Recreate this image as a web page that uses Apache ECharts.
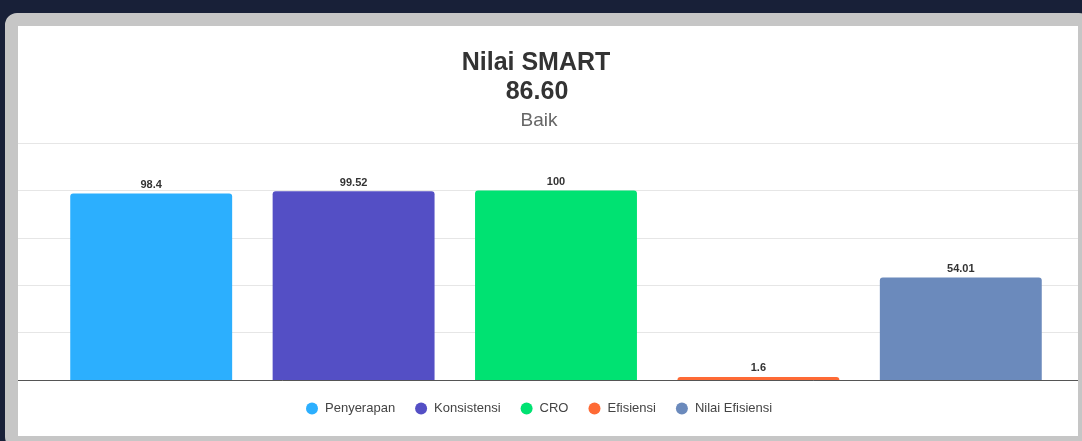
<!DOCTYPE html>
<html>
<head>
<meta charset="utf-8">
<script src="https://cdn.jsdelivr.net/npm/echarts@6/dist/echarts.min.js"></script>
<style>
  html, body { margin: 0; padding: 0; width: 1082px; height: 441px; overflow: hidden; background: #182038; }
  #card {
    position: absolute; left: 5px; top: 13px;
    width: 1060px; height: 410px;
    border: 13px solid #c6c6c6; border-radius: 12px;
    background: #fff;
  }
  #main { width: 1060px; height: 410px; }
</style>
</head>
<body>
<div id="card"><div id="main"></div></div>
<script>
  // Nilai SMART per komponen
  var categories = ['Penyerapan', 'Konsistensi', 'CRO', 'Efisiensi', 'Nilai Efisiensi'];
  var values = [98.4, 99.52, 100, 1.6, 54.01];
  var scoreTitle = 'Nilai SMART';
  var scoreValue = '86.60';
  var scoreGrade = 'Baik';

  var colors = ['#2caffe', '#544fc5', '#00e272', '#fe6a35', '#6b8abc'];

  var chart = echarts.init(document.getElementById('main'));

  var series = categories.map(function (name, i) {
    return {
      name: name,
      type: 'bar',
      xAxisIndex: 0,
      yAxisIndex: 0,
      barWidth: '80%',
      barGap: '-100%',
      data: values.map(function (v, j) { return j === i ? v : '-'; }),
      itemStyle: { color: colors[i], borderRadius: [3, 3, 0, 0] },
      label: {
        show: true,
        position: 'top',
        distance: 3,
        fontSize: 11,
        fontWeight: 'bold',
        color: '#333'
      }
    };
  });

  chart.setOption({
    textStyle: { fontFamily: 'Liberation Sans, Arial, sans-serif' },
    animation: false,
    title: [
      { text: scoreTitle, left: 513, top: 20, textAlign: 'center',
        textStyle: { fontSize: 25, fontWeight: 'bold', color: '#333' } },
      { text: scoreValue, left: 514, top: 49, textAlign: 'center',
        textStyle: { fontSize: 25, fontWeight: 'bold', color: '#333' } },
      { text: scoreGrade, left: 516, top: 80, textAlign: 'center',
        textStyle: { fontSize: 19, fontWeight: 'normal', color: '#666' } }
    ],
    legend: {
      data: categories,
      left: 283,
      top: 371,
      icon: 'circle',
      itemWidth: 12,
      itemHeight: 12,
      itemGap: 20,
      textStyle: { fontSize: 13, color: '#444', padding: [0, 0, 0, 2] }
    },
    grid: [
      { left: 32, right: 16, top: 117, bottom: 56 },
      { left: 0, right: 0, top: 117, bottom: 56 }
    ],
    xAxis: [
      { gridIndex: 0, type: 'category', data: categories, show: false },
      { gridIndex: 1, type: 'category', data: [''], boundaryGap: false,
        axisLine: { show: true, lineStyle: { color: '#555', width: 1 } },
        axisTick: { show: false }, axisLabel: { show: false } }
    ],
    yAxis: [
      { gridIndex: 0, type: 'value', min: 0, max: 125, interval: 25, show: false },
      { gridIndex: 1, type: 'value', min: 0, max: 125, interval: 25,
        axisLine: { show: false }, axisTick: { show: false }, axisLabel: { show: false },
        splitLine: { lineStyle: { color: '#e6e6e6' } } }
    ],
    series: series
  });
</script>
</body>
</html>
